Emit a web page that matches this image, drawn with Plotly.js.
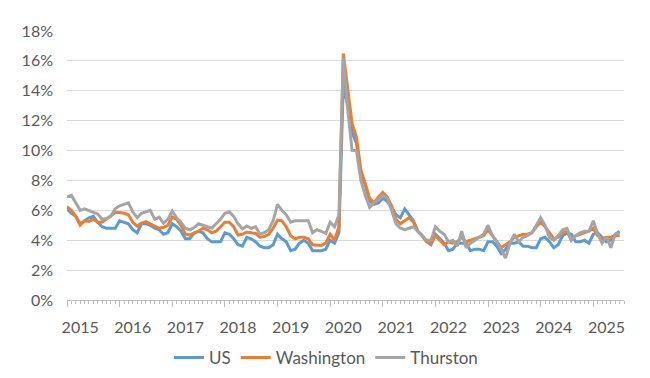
<!DOCTYPE html>
<html>
<head>
<meta charset="utf-8">
<script src="https://cdn.plot.ly/plotly-3.0.1.min.js"></script>
<style>html,body{margin:0;padding:0;background:#fff;}#chart{width:650px;height:378px;}</style>
</head>
<body>
<div id="chart"></div>
<script>
// Monthly unemployment rate (%), Jan 2015 .. Jul 2025
const yearLabels = ['2015','2016','2017','2018','2019','2020','2021','2022','2023','2024','2025'];

const us = [
  6.1, 5.8, 5.6, 5.1, 5.3, 5.5, 5.6, 5.2, 4.9, 4.8, 4.8, 4.8,
  5.3, 5.2, 5.1, 4.7, 4.5, 5.1, 5.1, 5.0, 4.8, 4.7, 4.4, 4.5,
  5.1, 4.9, 4.6, 4.1, 4.1, 4.5, 4.6, 4.5, 4.1, 3.9, 3.9, 3.9,
  4.5, 4.4, 4.1, 3.7, 3.6, 4.2, 4.1, 3.9, 3.6, 3.5, 3.5, 3.7,
  4.4, 4.1, 3.9, 3.3, 3.4, 3.8, 4.0, 3.8, 3.3, 3.3, 3.3, 3.4,
  4.0, 3.8, 4.5, 14.4, 13.0, 11.2, 10.5, 8.5, 7.7, 6.6, 6.4, 6.5,
  6.8, 6.6, 6.2, 5.7, 5.5, 6.1, 5.7, 5.3, 4.6, 4.3, 3.9, 3.7,
  4.4, 4.1, 3.8, 3.3, 3.4, 3.8, 3.8, 3.8, 3.3, 3.4, 3.4, 3.3,
  3.9, 3.9, 3.6, 3.1, 3.4, 3.8, 3.8, 3.9, 3.6, 3.6, 3.5, 3.5,
  4.1, 4.2, 3.9, 3.5, 3.7, 4.3, 4.5, 4.4, 3.9, 3.9, 4.0, 3.8,
  4.4, 4.5, 4.2, 3.9, 4.0, 4.4, 4.6
];

const washington = [
  6.25, 6.0, 5.6, 5.0, 5.3, 5.25, 5.4, 5.2, 5.2, 5.4, 5.6, 5.85,
  5.85, 5.8, 5.7, 5.2, 4.95, 5.15, 5.25, 5.1, 4.95, 4.8, 4.85, 5.0,
  5.55, 5.4, 5.0, 4.4, 4.35, 4.45, 4.6, 4.8, 4.7, 4.5, 4.6, 4.9,
  5.2, 5.2, 4.9, 4.35, 4.4, 4.55, 4.5, 4.45, 4.2, 4.25, 4.4, 4.8,
  5.35, 5.3, 4.9, 4.3, 4.1, 4.2, 4.2, 4.1, 3.7, 3.65, 3.65, 3.8,
  4.4, 4.0, 4.9, 16.5, 14.2, 11.8, 10.9, 8.7, 7.8, 6.8, 6.5, 6.9,
  7.2, 6.9, 6.3, 5.4, 5.1, 5.3, 5.5, 5.2, 4.6, 4.3, 3.9, 3.8,
  4.3, 4.0, 3.7, 3.9, 3.8, 3.9, 4.2, 3.9, 4.0, 4.1, 4.2, 4.3,
  4.7, 4.3, 3.9, 3.5, 3.7, 3.9, 4.2, 4.3, 4.4, 4.4, 4.5, 4.9,
  5.2, 4.9, 4.5, 4.1, 4.2, 4.5, 4.6, 4.0, 4.3, 4.4, 4.5, 4.6,
  4.8, 4.3, 4.1, 4.2, 4.2, 4.3, 4.3
];

const thurston = [
  6.9, 7.0, 6.5, 6.0, 6.1, 6.0, 5.85, 5.75, 5.4, 5.45, 5.6, 6.1,
  6.3, 6.4, 6.5, 5.9, 5.5, 5.8, 5.9, 6.0, 5.4, 5.55, 5.15, 5.4,
  5.95, 5.5, 5.2, 4.8, 4.7, 4.85, 5.1, 5.0, 4.85, 4.8, 5.1, 5.4,
  5.8, 5.9, 5.6, 5.1, 4.75, 4.95, 4.8, 4.9, 4.4, 4.5, 4.7, 5.3,
  6.4, 6.0, 5.7, 5.2, 5.3, 5.3, 5.35, 5.3, 4.5, 4.7, 4.6, 4.45,
  5.2, 4.9, 5.7, 16.2, 12.8, 10.0, 10.0, 8.0, 7.0, 6.2, 6.5, 6.7,
  7.0, 6.8, 6.0, 5.1, 4.8, 4.7, 4.8, 4.9, 4.6, 4.3, 4.0, 4.0,
  4.9, 4.6, 4.4, 3.9, 4.0, 3.6, 4.6, 3.5, 3.8, 4.0, 4.2, 4.4,
  5.0, 4.3, 3.9, 3.4, 2.8, 3.8, 4.4, 3.9, 4.2, 4.3, 4.5, 5.0,
  5.5, 5.0, 4.2, 4.0, 4.3, 4.7, 4.8, 4.0, 4.3, 4.5, 4.6, 4.6,
  5.3, 4.4, 3.8, 4.2, 3.5, 4.4, 4.5
];

const seriesNames = ['US', 'Washington', 'Thurston'];
const seriesColors = ['#5b9bd5', '#ed7d31', '#a5a5a5'];
const seriesData = [us, washington, thurston];

const nMonths = 127; // axis span in months
const monthIdx = arr => arr.map((_, i) => i);
const yearTickVals = yearLabels.map((_, k) => k * 12);
const yearLabelVals = yearLabels.map((_, k) => k * 12 + 3);

const traces = seriesData.map((d, k) => ({
  type: 'scatter', mode: 'lines',
  name: seriesNames[k],
  x: monthIdx(d), y: d,
  line: {color: seriesColors[k], width: 3},
  hoverinfo: 'skip'
}));
// empty helper trace so the label axis exists
traces.push({type: 'scatter', mode: 'lines', x: [], y: [], xaxis: 'x2', yaxis: 'y', showlegend: false, hoverinfo: 'skip'});

const font = 'Lato, "DejaVu Sans", sans-serif';
const txt = '#595959';

const layout = {
  width: 650, height: 378,
  margin: {l: 67, r: 26, t: 31, b: 78, pad: 0, autoexpand: false},
  paper_bgcolor: '#ffffff', plot_bgcolor: '#ffffff',
  showlegend: true,
  font: {family: font, size: 16, color: txt},
  xaxis: {
    range: [0, nMonths], fixedrange: true,
    tickmode: 'array', tickvals: yearTickVals, showticklabels: false,
    ticks: 'outside', ticklen: 6, tickwidth: 1, tickcolor: '#bfbfbf',
    minor: {tickmode: 'linear', tick0: 0, dtick: 1, ticks: 'outside', ticklen: 3, tickwidth: 1, tickcolor: '#bfbfbf', showgrid: false},
    showline: true, linecolor: '#bfbfbf', linewidth: 1,
    showgrid: false, zeroline: false
  },
  xaxis2: {
    overlaying: 'x', anchor: 'y', side: 'bottom',
    range: [0, nMonths], fixedrange: true,
    tickmode: 'array', tickvals: yearLabelVals, ticktext: yearLabels,
    ticks: '', showline: false, showgrid: false, zeroline: false,
    tickangle: 0,
    tickfont: {family: font, size: 16, color: txt},
    ticklabelstandoff: 16
  },
  yaxis: {
    range: [0, 18], dtick: 2, tick0: 0, ticksuffix: '%', fixedrange: true,
    showgrid: true, gridcolor: '#d9d9d9', gridwidth: 1,
    zeroline: false, showline: false, ticks: '',
    tickfont: {family: font, size: 16, color: txt},
    ticklabelstandoff: 13
  },
  legend: {
    orientation: 'h', x: 0.465, xanchor: 'center',
    y: -0.215, yanchor: 'middle',
    font: {family: font, size: 17, color: txt},
    bgcolor: 'rgba(0,0,0,0)', traceorder: 'normal'
  }
};

Plotly.newPlot('chart', traces, layout, {staticPlot: true, displayModeBar: false});
</script>
</body>
</html>
